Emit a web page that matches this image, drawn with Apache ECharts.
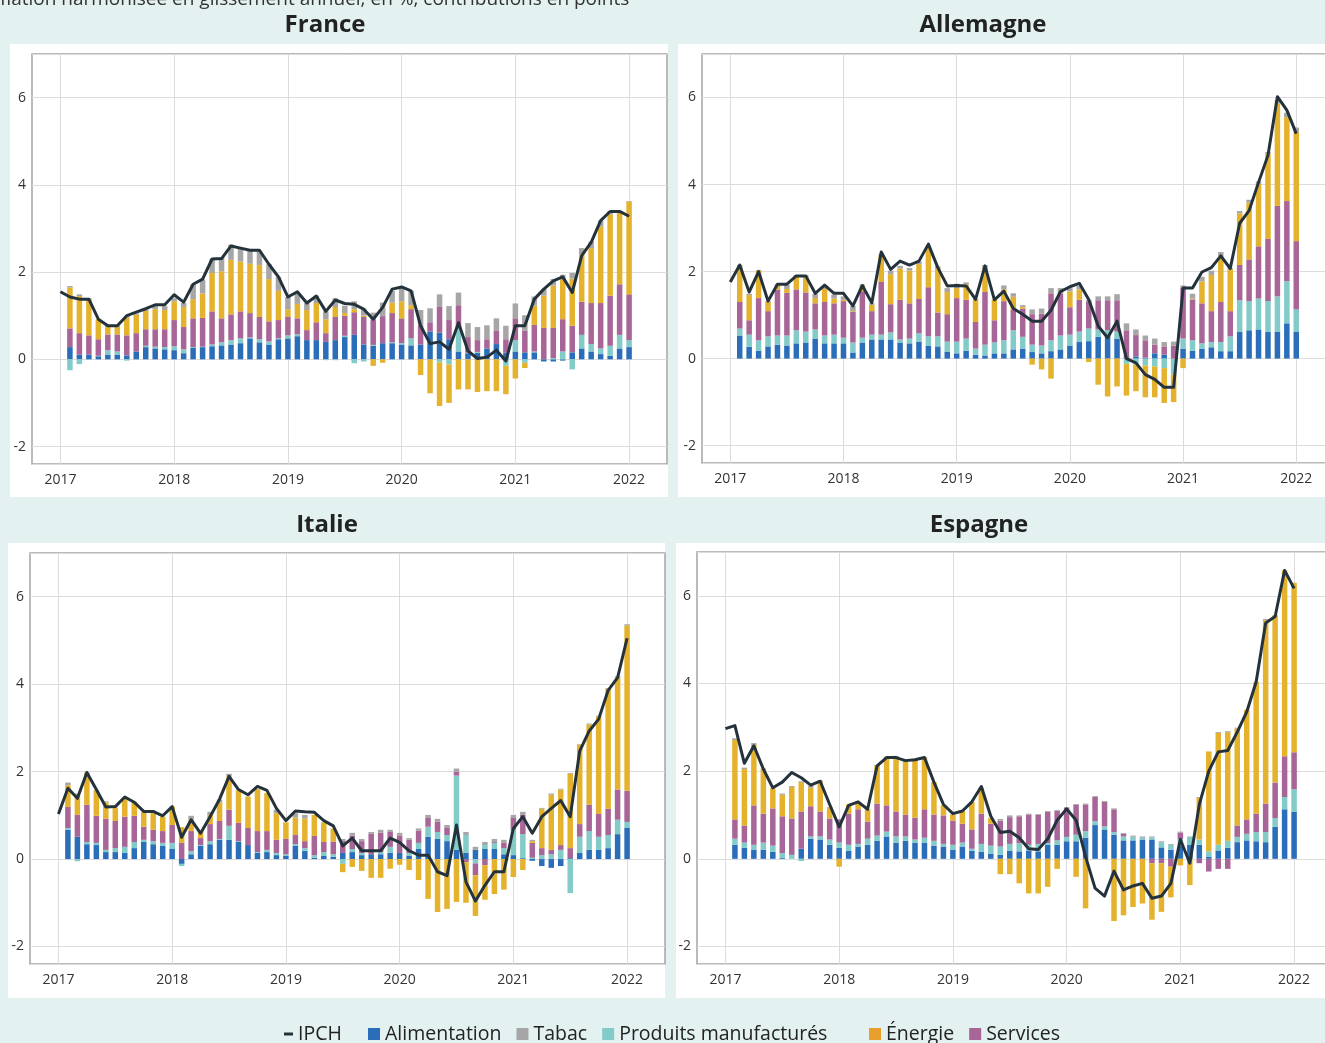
<!DOCTYPE html>
<html><head><meta charset="utf-8">
<script src="https://cdn.jsdelivr.net/npm/echarts@6/dist/echarts.min.js"></script>
<style>html,body{margin:0;padding:0;background:#e3f1f1}#c{width:1325px;height:1043px}</style>
</head><body><div id="c"></div>
<script>
// ---- categories (months) ----
const padBefore = ['2016-10','2016-11','2016-12'];
const months = ['2017-01','2017-02','2017-03','2017-04','2017-05','2017-06','2017-07','2017-08','2017-09','2017-10','2017-11','2017-12',
'2018-01','2018-02','2018-03','2018-04','2018-05','2018-06','2018-07','2018-08','2018-09','2018-10','2018-11','2018-12',
'2019-01','2019-02','2019-03','2019-04','2019-05','2019-06','2019-07','2019-08','2019-09','2019-10','2019-11','2019-12',
'2020-01','2020-02','2020-03','2020-04','2020-05','2020-06','2020-07','2020-08','2020-09','2020-10','2020-11','2020-12',
'2021-01','2021-02','2021-03','2021-04','2021-05','2021-06','2021-07','2021-08','2021-09','2021-10','2021-11','2021-12',
'2022-01'];
const padAfter = ['2022-02','2022-03','2022-04','2022-05'];
const yearTicks = ['2017','2018','2019','2020','2021','2022'];

// ---- France (bars Feb 2017 .. Jan 2022, IPCH Jan 2017 .. Jan 2022) ----
const fr_alim = [.28,.11,.11,.07,.11,.11,.09,.18,.28,.25, .23,.21,.14,.26,.28,.30,.32,.34,.37,.48, .39,.34,.46,.48,.53,.44,.44,.40,.44,.51, .56,.34,.31,.37,.37,.34,.32,.34,.64,.61, .46,.18,.14,.15,.25,.35,.15,.18,.16,.16, -.05,-.05,-.03,.16,.25,.18,.12,.08,.25,.28];
const fr_tabac = [.03,.04,.02,0,.03,.03,.04,.03,.04,.07, .09,.07,.09,.34,.32,.32,.32,.35,.31,.31, .33,.34,.32,.28,.26,.16,.17,.18,.2,.17, .18,.17,.17,.31,.27,.32,.33,.35,.32,.29, .32,.29,.32,.30,.32,.29,.31,.34,.36,.21, .15,.15,.1,.13,.14,.15,.14,.08,.03,.01];
const fr_manuf = [-.25,-.11,-.01,.01,.10,.07,-.03,0,.03,.04, .05,.09,.09,.02,.01,.04,.07,.10,.11,.02, .07,.07,.02,.07,.04,0,0,-.02,-.02,.03, -.09,-.05,.02,0,.02,.03,.16,0,0,-.07, -.12,.52,.01,.02,0,0,-.15,.26,-.08,.02, 0,.03,.18,-.23,.31,.17,.13,.23,.31,.16];
const fr_services = [.43,.49,.44,.38,.36,.39,.46,.42,.38,.40, .41,.60,.51,.66,.66,.76,.55,.59,.62,.56, .51,.46,.42,.42,.37,.23,.41,.2,.53,.46, .52,.63,.57,.62,.67,.57,.67,.44,.21,.59, .44,.54,.36,.27,.21,.30,.31,.50,.49,.61, .72,.69,.74,.61,.76,.94,1.04,1.15,1.16,1.05];
const fr_energie = [.94,.85,.83,.46,.17,.17,.41,.42,.42,.46, .44,.43,.46,.44,.56,.88,1.08,1.25,1.14,1.13, 1.19,.97,.67,.18,.33,.46,.44,.32,.23,.06, .07,.03,-.15,-.08,.24,.39,.09,-.36,-.78,-1.0, -.88,-.69,-.69,-.75,-.73,-.73,-.65,-.44,-.12,.44, .74,.97,.92,1.08,1.09,1.26,1.75,1.86,1.65,2.13];
const fr_ipch = [1.55,1.43,1.38,1.38,.92,.77,.77,1.0,1.08,1.16, 1.25,1.25,1.48,1.31,1.72,1.84,2.3,2.31,2.6,2.55, 2.5,2.5,2.18,1.89,1.43,1.55,1.29,1.45,1.1,1.36, 1.28,1.26,1.15,.92,1.19,1.61,1.66,1.57,.77,.36, .40,.23,.84,.19,.02,.05,.21,-.04,.77,.77, 1.38,1.61,1.8,1.89,1.53,2.38,2.68,3.18,3.39,3.39, 3.28];

// ---- Allemagne ----
const de_alim = [.53,.27,.18,.28,.32,.3,.35,.37,.46,.35, .35,.35,.14,.37,.44,.44,.44,.37,.35,.39, .3,.28,.16,.12,.18,.09,.07,.12,.12,.21, .23,.15,.12,.17,.21,.3,.38,.4,.5,.55, .46,0,.05,.02,.12,.09,0,.23,.18,.23, .26,.17,.17,.61,.65,.67,.61,.62,.81,.62];
const de_tabac = [.06,.03,.02,.02,.04,.1,.04,.06,.1,.06, .09,.08,.12,.03,.03,.04,.08,.06,.06,.06, .04,.05,.09,.1,.05,.02,.07,.01,.09,.08, .04,.11,.12,.12,.12,.08,.08,.05,.09,.09, .14,.16,.13,.11,.14,.1,.09,.05,.11,.11, .1,.1,.03,.05,.06,.05,.04,.08,.1,.1];
const de_manuf = [.16,.28,.24,.23,.21,.23,.3,.25,.21,.18, .2,.13,.23,.11,.11,.11,.16,.07,.11,.19, .21,.23,.23,.27,.28,.14,.25,.25,.3,.44, .27,.17,.18,.25,.32,.25,.24,.29,.17,.1, .16,-.12,-.14,-.16,-.18,-.22,-.37,.23,.24,.12, .12,.21,.34,.73,.67,.71,.71,.81,.97,.51];
const de_services = [.61,.33,.97,.58,1.05,.98,.94,.9,.6,.77, .72,.84,.7,1.07,.54,1.21,.65,.91,.81,.79, 1.13,.55,.63,1.0,.89,.61,1.21,.51,.9,.48, .65,.7,.73,1.08,.97,.63,.73,.61,.67,.69, .72,.65,.49,.4,.2,.19,.3,1.17,.94,.92, .71,.92,.58,.81,.96,1.2,1.43,2.08,1.84,1.57];
const de_energie = [.79,.58,.63,.21,.09,.09,.29,.34,.12,.3, .11,.03,.02,.12,.15,.6,.69,.72,.75,.8, .91,1.01,.51,.23,.35,.51,.55,.47,.27,.29, .04,-.14,-.25,-.46,0,.36,.24,-.08,-.6,-.87, -.64,-.73,-.61,-.73,-.71,-.8,-.63,-.22,.02,.5, .83,1.05,.96,1.19,1.31,1.44,1.96,2.35,1.93,2.51];
const de_ipch = [1.76,2.15,1.53,2.0,1.32,1.71,1.71,1.9,1.9,1.5, 1.69,1.5,1.5,1.21,1.68,1.28,2.45,2.05,2.24,2.15, 2.24,2.63,2.09,1.67,1.68,1.67,1.36,2.13,1.35,1.55, 1.15,1.02,.86,.86,1.11,1.54,1.65,1.73,1.36,.75, .48,.86,0,-.1,-.37,-.48,-.66,-.66,1.62,1.62, 1.99,2.09,2.36,2.07,3.11,3.4,4.05,4.67,6.02,5.71, 5.17];

// ---- Italie ----
const it_alim = [.67,.51,.34,.32,.16,.16,.14,.25,.39,.34, .3,.23,-.11,.11,.3,.34,.44,.44,.4,.32, .14,.16,.09,.07,.3,.19,.03,.07,.05,.14, .16,.09,.11,.11,.14,.14,.07,.23,.51,.46, .41,.21,.14,.21,.23,.23,.11,.09,.02,-.04, -.16,-.2,-.16,.02,.14,.21,.21,.25,.57,.71];
const it_tabac = [.06,.03,.01,.01,.02,0,.01,.01,0,0, 0,0,0,.09,0,.07,.06,.06,0,0, 0,0,.08,0,.1,.08,0,0,0,.05, .06,.05,.04,.07,.05,.06,.04,.05,.07,.07, .07,.07,.07,.07,.07,.07,.07,.07,.07,.03, .02,.03,.02,.02,.01,.02,.02,.02,.02,.03];
const it_manuf = [.04,-.05,.05,.05,.05,.09,.14,.14,.05,.07, .07,.14,-.05,.07,.02,.07,.02,.32,.01,0, .02,.05,.05,.04,.04,.06,.06,.09,.06,-.11, .07,.05,0,.05,.14,0,.07,.14,.23,.16, .14,1.7,.41,-.1,.09,.14,.14,.58,.55,.03, .09,.11,.21,-.78,.37,.43,.3,.3,.33,.14];
const it_services = [.48,.5,.85,.62,.71,.62,.69,.6,.3,.26, .27,.41,.37,.46,.16,.39,.41,.37,.42,.39, .48,.43,.3,.35,.21,.16,.44,.23,.29,.27, .31,.27,.47,.44,.34,.4,.3,.28,.2,.23, .16,.09,-.07,-.27,-.14,.02,.12,.27,.44,.34, .16,.1,.11,.23,.29,.6,.52,.6,.69,.71];
const it_energie = [.5,.46,.73,.58,.38,.31,.41,.31,.34,.38, .33,.42,.36,.26,.15,.21,.43,.76,.74,.72, .96,.87,.61,.38,.4,.52,.48,.45,.3,-.19, -.18,-.27,-.43,-.43,-.22,-.13,-.25,-.48,-.91,-1.21, -1.14,-.98,-.93,-.93,-.79,-.8,-.7,-.41,-.25,.04, .9,1.26,1.27,1.7,1.82,1.84,2.23,2.74,2.58,3.78];
const it_ipch = [1.03,1.62,1.39,1.98,1.59,1.19,1.2,1.42,1.3,1.09, 1.09,.99,1.2,.5,.9,.59,.97,1.37,1.89,1.59, 1.47,1.66,1.57,1.16,.88,1.1,1.08,1.07,.88,.76, .3,.48,.19,.19,.19,.48,.38,.19,.09,.09, -.29,-.38,.78,-.52,-.96,-.6,-.29,-.29,.7,.97, .59,.97,1.16,1.34,.97,2.47,2.93,3.2,3.86,4.15, 5.05];

// ---- Espagne ----
const es_alim = [.32,.25,.21,.21,.16,.02,0,.23,.46,.44, .32,.25,.18,.28,.32,.41,.51,.37,.41,.37, .37,.3,.28,.21,.28,.18,.16,.11,.09,.18, .17,.19,.17,.32,.32,.4,.4,.48,.77,.67, .55,.42,.42,.44,.44,.26,.21,.3,.32,.32, .05,.19,.25,.38,.42,.4,.38,.73,1.13,1.07];
const es_tabac = [.04,.03,.04,0,0,.03,.02,.02,.04,.02, 0,0,0,0,0,0,.02,.04,.04,.04, .01,0,0,0,0,0,0,0,.04,.04, .02,.02,.02,.02,.02,.02,.02,.02,.02,.02, .02,.02,.02,.02,.02,.02,.02,.02,0,.02, 0,.02,.02,.02,0,0,.03,0,0,0];
const es_manuf = [.14,.12,.11,.16,.14,.11,.09,-.05,.05,.07, .12,.12,.14,.06,.14,.12,.11,.14,.1,.07, .11,.11,.06,.11,.09,.05,.18,.19,.19,.16, .19,.13,.17,.04,.1,.1,.15,.15,.09,.07, .06,.09,.08,.04,.05,.12,.11,.15,.19,.12, .12,.13,.16,.12,.15,.21,.23,.2,.28,.52];
const es_services = [.44,.39,.9,.66,.85,.84,.83,.85,.69,.57, .48,.53,.71,.79,.39,.73,.6,.57,.5,.5, .65,.6,.65,.55,.43,.44,.69,.5,.59,.61, .61,.69,.66,.71,.67,.66,.68,.61,.55,.56, .52,.06,.01,.01,-.1,-.1,-.18,.15,0,-.1, -.29,-.23,-.23,.26,.33,.42,.65,.81,.93,.84];
const es_energie = [1.81,1.29,1.38,1.03,.46,.49,.72,.67,.42,.69, .26,-.18,.21,.17,.28,.88,1.09,1.23,1.21,1.3, 1.18,.74,.23,.14,.29,.63,.59,.13,-.35,-.35, -.56,-.79,-.79,-.64,-.23,0,-.41,-1.13,0,0, -1.42,-1.29,-1.1,-1.02,-1.29,-1.11,-.7,-.15,-.6,.95, 2.28,2.55,2.48,2.21,2.5,3.01,4.18,3.82,4.24,3.87];
const es_ipch = [2.97,3.04,2.18,2.58,2.05,1.62,1.75,1.97,1.85,1.68, 1.77,1.24,.73,1.22,1.3,1.13,2.12,2.31,2.31,2.24, 2.26,2.31,1.75,1.24,1.03,1.09,1.3,1.65,.97,.6, .63,.48,.23,.21,.45,.88,1.14,.88,.05,-.67, -.85,-.28,-.71,-.62,-.56,-.9,-.85,-.56,.44,-.1, 1.24,2.0,2.44,2.47,2.89,3.35,4.04,5.38,5.53,6.58, 6.17];

// ---- build ----
const cats = padBefore.concat(months, padAfter);
const FONT = "'Open Sans', 'Noto Sans', sans-serif";
const panels = [
  {title:'France', tx:325, ty:25, box:[10,44,658,453], grid:{left:32, top:54, width:635, height:410},
   d:{alim:fr_alim, manuf:fr_manuf, services:fr_services, energie:fr_energie, tabac:fr_tabac}, ipch:fr_ipch},
  {title:'Allemagne', tx:983, ty:25, box:[678,44,660,453], grid:{left:702, top:54, width:632, height:409},
   d:{alim:de_alim, manuf:de_manuf, services:de_services, energie:de_energie, tabac:de_tabac}, ipch:de_ipch},
  {title:'Italie', tx:327, ty:525, box:[8,543,657,455], grid:{left:30, top:553, width:635, height:411},
   d:{alim:it_alim, manuf:it_manuf, services:it_services, energie:it_energie, tabac:it_tabac}, ipch:it_ipch},
  {title:'Espagne', tx:979, ty:525, box:[676,543,660,455], grid:{left:697, top:552, width:635, height:412},
   d:{alim:es_alim, manuf:es_manuf, services:es_services, energie:es_energie, tabac:es_tabac}, ipch:es_ipch}
];
const barDefs = [
  {name:'Alimentation', key:'alim', color:'#2a6db8'},
  {name:'Produits manufacturés', key:'manuf', color:'#83cbc8'},
  {name:'Services', key:'services', color:'#a86597'},
  {name:'Énergie', key:'energie', color:'#e4b22c'},
  {name:'Tabac', key:'tabac', color:'#a6a6a6'}
];
const isYear = (i, v) => v.endsWith('-01') && yearTicks.indexOf(v.slice(0,4)) >= 0;

const grids = [], xAxes = [], yAxes = [], series = [], graphics = [];
panels.forEach((p, g) => {
  grids.push(Object.assign({show:true, backgroundColor:'#ffffff', borderColor:'#a4a4a4', borderWidth:1.5,
    containLabel:false, outerBoundsMode:'none'}, p.grid));
  xAxes.push({type:'category', gridIndex:g, data:cats, boundaryGap:false,
    axisLine:{show:false}, axisTick:{show:false},
    axisLabel:{interval:isYear, formatter:v => v.slice(0,4), color:'#333', fontSize:14, margin:9, fontFamily:FONT},
    splitLine:{show:true, interval:isYear, lineStyle:{color:'#dcdcdc', width:1}}});
  yAxes.push({type:'value', gridIndex:g, min:-2.4, max:7,
    axisLine:{show:false}, axisTick:{show:false},
    axisLabel:{showMinLabel:false, showMaxLabel:false, color:'#333', fontSize:14, margin:6, fontFamily:FONT},
    splitLine:{show:true, lineStyle:{color:'#dcdcdc', width:1}}});
  barDefs.forEach(b => {
    series.push({type:'bar', name:b.name, xAxisIndex:g, yAxisIndex:g, stack:'s'+g, barWidth:5.5,
      itemStyle:{color:b.color}, data: months.slice(1).map((m,k) => [m, p.d[b.key][k]])});
  });
  series.push({type:'line', name:'IPCH', xAxisIndex:g, yAxisIndex:g, symbol:'none', z:5,
    lineStyle:{color:'#24323b', width:3, join:'round'}, itemStyle:{color:'#24323b'},
    data: months.map((m,k) => [m, p.ipch[k]])});
  graphics.push({type:'rect', z:-10, shape:{x:p.box[0], y:p.box[1], width:p.box[2], height:p.box[3]},
    style:{fill:'#ffffff'}, silent:true});
  graphics.push({type:'text', x:p.tx, y:p.ty, z:10, silent:true,
    style:{text:p.title, fill:'#222', font:'bold 24px ' + FONT, align:'center', verticalAlign:'middle',
      textAlign:'center', textVerticalAlign:'middle'}});
});
graphics.push({type:'text', x:-17, y:0, z:10, silent:true,
  style:{text:'Inflation harmonisée en glissement annuel, en %, contributions en points', fill:'#333',
    font:'19px ' + FONT, align:'left', verticalAlign:'middle', textAlign:'left', textVerticalAlign:'middle'}});

const legText = {color:'#222', fontSize:19.5, fontFamily:FONT};
const option = {
  backgroundColor:'#e3f1f1',
  animation:false,
  grid:grids, xAxis:xAxes, yAxis:yAxes, series:series,
  graphic:{elements:graphics},
  legend:[
    {data:[{name:'IPCH', icon:'rect'}], left:284, top:1024, itemWidth:9, itemHeight:3, padding:0,
      textStyle:legText, selectedMode:false},
    {data:[{name:'Alimentation', icon:'rect'}, {name:'Tabac', icon:'rect'}, {name:'Produits manufacturés', icon:'rect'}],
      left:368, top:1024, itemWidth:12, itemHeight:12, itemGap:15, padding:0, textStyle:legText, selectedMode:false},
    {data:[{name:'Énergie', icon:'rect', itemStyle:{color:'#e99f2b'}}, {name:'Services', icon:'rect'}],
      left:869, top:1024, itemWidth:12, itemHeight:12, itemGap:15, padding:0, textStyle:legText, selectedMode:false}
  ]
};
const chart = echarts.init(document.getElementById('c'), null, {renderer:'canvas'});
chart.setOption(option);
</script></body></html>
